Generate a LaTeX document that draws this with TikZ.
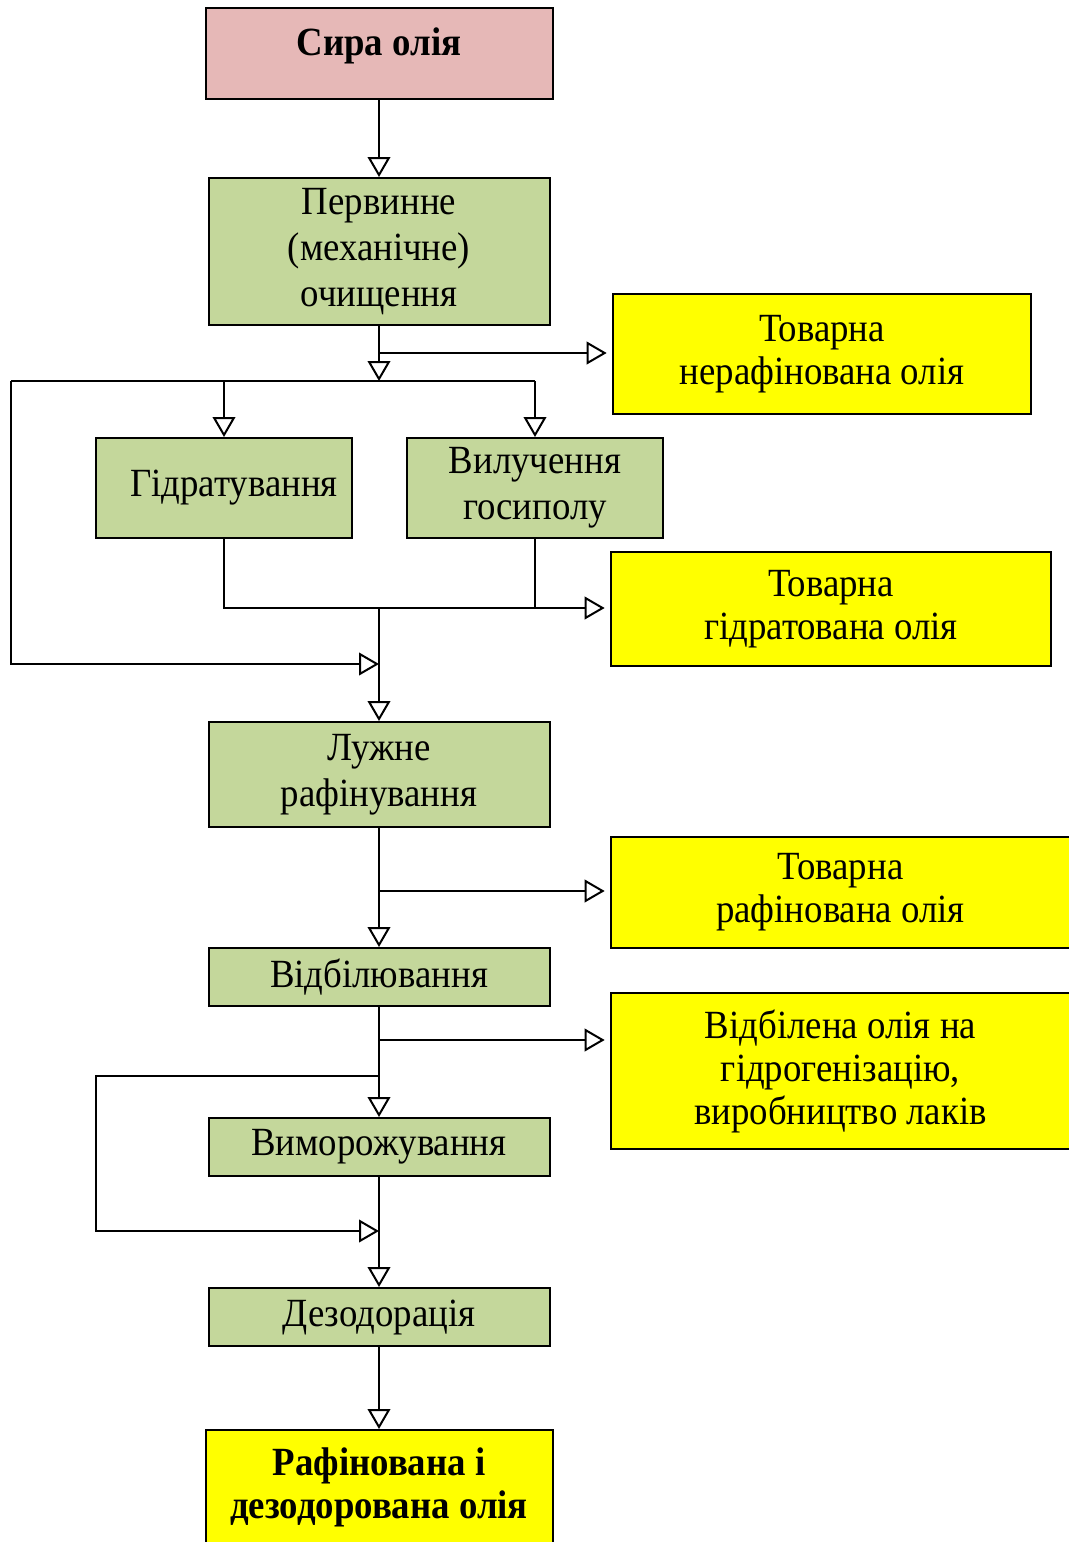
\documentclass[tikz,border=0pt]{standalone}
\usepackage{fontspec}
\setmainfont{Liberation Serif}[FakeStretch=0.92]
\usetikzlibrary{arrows.meta}
\definecolor{pinkfill}{HTML}{E6B8B7}
\definecolor{greenfill}{HTML}{C4D79B}
\definecolor{yellowfill}{HTML}{FFFF00}
\begin{document}
\begin{tikzpicture}[x=0.75pt,y=-0.75pt,
  box/.style={draw=black, line width=1.5pt, inner sep=0pt, align=center,
              font=\fontsize{30}{34.5}\selectfont},
  gbox/.style={box, fill=greenfill},
  pbox/.style={box, fill=pinkfill},
  ybox/.style={box, fill=yellowfill, font=\fontsize{30}{32.25}\selectfont},
  ln/.style={line width=1.5pt},
  arr/.style={ln, -{Triangle[length=15pt, width=17pt, fill=white]}},
  sarr/.style={arr, shorten >=4pt}]
\useasboundingbox (0,0) rectangle (1068,1542);
% nodes
\node[pbox, minimum width=347*0.75pt, minimum height=91*0.75pt] (raw) at (379,53.5) {\raisebox{6pt}[\height][\depth]{\textbf{Сира олія}}};
\node[gbox, minimum width=341*0.75pt, minimum height=147*0.75pt] (prim) at (379,251.5) {Первинне\\(механічне)\\очищення};
\node[ybox, minimum width=418*0.75pt, minimum height=120*0.75pt] (t1) at (822,354) {Товарна\\нерафінована олія};
\node[gbox, minimum width=256*0.75pt, minimum height=100*0.75pt] (hyd) at (224,488) {\hspace*{15pt}Гідратування};
\node[gbox, minimum width=256*0.75pt, minimum height=100*0.75pt] (gos) at (535,488) {Вилучення\\госиполу};
\node[ybox, minimum width=440*0.75pt, minimum height=114*0.75pt] (t2) at (831,609) {Товарна\\гідратована олія};
\node[gbox, minimum width=341*0.75pt, minimum height=105*0.75pt] (alk) at (379,774.5) {Лужне\\рафінування};
\node[ybox, minimum width=459*0.75pt, minimum height=111*0.75pt] (t3) at (840.5,892.5) {Товарна\\рафінована олія};
\node[gbox, minimum width=341*0.75pt, minimum height=58*0.75pt] (bl) at (379,977) {Відбілювання};
\node[ybox, minimum width=459*0.75pt, minimum height=156*0.75pt] (t4) at (840.5,1071) {Відбілена олія на\\гідрогенізацію,\\виробництво лаків};
\node[gbox, minimum width=341*0.75pt, minimum height=58*0.75pt] (fr) at (379,1147) {Виморожування};
\node[gbox, minimum width=341*0.75pt, minimum height=58*0.75pt] (deo) at (379,1317) {Дезодорація};
\node[ybox, minimum width=347*0.75pt, minimum height=115*0.75pt] (fin) at (379,1487.5) {\textbf{Рафінована і}\\\textbf{дезодорована олія}};
% junctions
\coordinate (j1) at (379,353);
\coordinate (j2) at (379,381);
\coordinate (L1) at (11,381);
\coordinate (L2) at (11,664);
\coordinate (m1) at (379,664);
\coordinate (H2) at (224,608);
\coordinate (R2) at (535,608);
\coordinate (j3) at (379,608);
\coordinate (j4) at (379,891);
\coordinate (j5) at (379,1040);
\coordinate (j6) at (379,1076);
\coordinate (L3) at (96,1076);
\coordinate (L4) at (96,1231);
\coordinate (m2) at (379,1231);
% connectors
\draw[arr] (raw) -- (prim);
\draw[ln] (prim) -- (j1);
\draw[arr] (j1) -- (j2);
\draw[sarr] (j1) -- (j1 -| t1.west);
\draw[ln] (L1) -- (j2 -| gos);
\draw[arr] (j2 -| hyd) -- (hyd);
\draw[arr] (j2 -| gos) -- (gos);
\draw[arr] (L1) -- (L2) -- (m1);
\draw[ln] (hyd) -- (H2) -- (R2);
\draw[ln] (gos) -- (R2);
\draw[sarr] (R2) -- (R2 -| t2.west);
\draw[arr] (j3) -- (alk);
\draw[arr] (alk) -- (bl);
\draw[sarr] (j4) -- (j4 -| t3.west);
\draw[arr] (bl) -- (fr);
\draw[sarr] (j5) -- (j5 -| t4.west);
\draw[arr] (j6) -- (L3) -- (L4) -- (m2);
\draw[arr] (fr) -- (deo);
\draw[arr] (deo) -- (fin);
\end{tikzpicture}
\end{document}
